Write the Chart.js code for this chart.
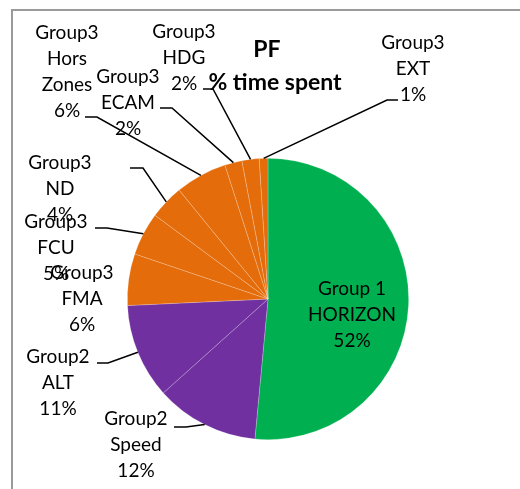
<!DOCTYPE html>
<html>
<head>
<meta charset="utf-8">
<script src="https://cdn.jsdelivr.net/npm/chart.js@4.4.0/dist/chart.umd.min.js"></script>
<style>
  html, body { margin:0; padding:0; background:#fff; }
  #wrap { position:absolute; left:0; top:0; width:520px; height:489px; }
</style>
</head>
<body>
<div id="wrap"><canvas id="pie" width="520" height="489"></canvas></div>
<script>
const groups = ['Group 1','Group2','Group2','Group3','Group3','Group3','Group3','Group3','Group3','Group3'];
const names  = ['HORIZON','Speed','ALT','FMA','FCU','ND','Hors\nZones','ECAM','HDG','EXT'];
const shares = [52, 12, 11, 6, 5, 4, 6, 2, 2, 1];
const colors = ['#00B050','#7030A0','#7030A0','#E46C0A','#E46C0A','#E46C0A','#E46C0A','#E46C0A','#E46C0A','#E46C0A'];

// where each label sits: text centre, first line y, elbow of the leader line (null = no line)
const labelLayout = [
  { x:352, y:289, elbow:null },
  { x:136, y:419, elbow:[174,186,427] },
  { x:58,  y:357, elbow:[97,108,363] },
  { x:82,  y:273, elbow:null },
  { x:56,  y:222, elbow:[95,107,228] },
  { x:60,  y:163, elbow:[130,143,168] },
  { x:67,  y:33,  elbow:[85,97,117] },
  { x:128, y:77,  elbow:[160,172,108] },
  { x:184, y:32,  elbow:[203,213,89] },
  { x:413, y:43,  elbow:[398,387,100] }
];

const FONT = 'Lato, "Open Sans", sans-serif';

const frame = {
  id:'frame',
  beforeDraw(chart) {
    const c = chart.ctx;
    c.save();
    c.strokeStyle = '#9a9a9a';
    c.lineWidth = 2;
    c.beginPath();
    c.moveTo(12, 489);
    c.lineTo(12, 10);
    c.lineTo(520, 10);
    c.stroke();
    c.restore();
  }
};

const outsideLabels = {
  id:'outsideLabels',
  afterDraw(chart) {
    const c = chart.ctx;
    const arcs = chart.getDatasetMeta(0).data;
    c.save();
    // leader lines
    c.strokeStyle = '#000';
    c.lineWidth = 1.5;
    arcs.forEach((arc, i) => {
      const lay = labelLayout[i];
      if (!lay.elbow) return;
      const mid = (arc.startAngle + arc.endAngle) / 2;
      const ex = arc.x + Math.cos(mid) * arc.outerRadius;
      const ey = arc.y + Math.sin(mid) * arc.outerRadius;
      c.beginPath();
      c.moveTo(lay.elbow[0], lay.elbow[2]);
      c.lineTo(lay.elbow[1], lay.elbow[2]);
      c.lineTo(ex, ey);
      c.stroke();
    });
    // texts
    c.fillStyle = '#000';
    c.font = '19px ' + FONT;
    c.textAlign = 'center';
    c.textBaseline = 'middle';
    arcs.forEach((arc, i) => {
      const lay = labelLayout[i];
      const lines = [groups[i]].concat(names[i].split('\n'), [shares[i] + '%']);
      lines.forEach((t, k) => c.fillText(t, lay.x, lay.y + k * 26));
    });
    // title
    c.font = 'bold 23px ' + FONT;
    c.fillText('PF', 267, 50);
    c.fillText('% time spent', 275, 83);
    c.restore();
  }
};

new Chart(document.getElementById('pie'), {
  type:'pie',
  data:{
    labels: names.map((n, i) => groups[i] + ' ' + n.replace('\n', ' ')),
    datasets:[{
      data: shares,
      backgroundColor: colors,
      borderColor: 'rgba(255,255,255,0.3)',
      borderWidth: 0.7
    }]
  },
  options:{
    responsive:false,
    animation:false,
    layout:{ padding:{ left:127, right:111, top:158, bottom:49 } },
    plugins:{ legend:{ display:false }, tooltip:{ enabled:false }, title:{ display:false } }
  },
  plugins:[frame, outsideLabels]
});
</script>
</body>
</html>
